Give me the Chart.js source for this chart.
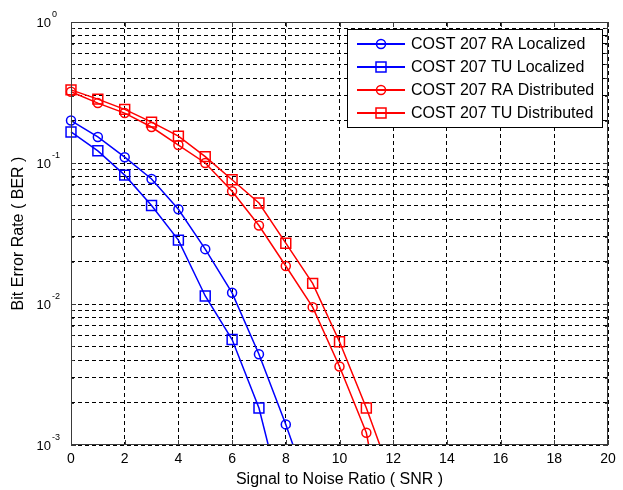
<!DOCTYPE html>
<html>
<head>
<meta charset="utf-8">
<script src="https://cdn.jsdelivr.net/npm/chart.js@4/dist/chart.umd.min.js"></script>
<style>
  html, body { margin: 0; padding: 0; background: #fff; }
  #wrap { width: 623px; height: 490px; position: relative; }
  #chart { display: block; }
</style>
</head>
<body>
<div id="wrap"><canvas id="chart" width="623" height="490"></canvas></div>
<script>
// SNR values (dB) on the x axis
const snr = [0, 1, 2, 3, 4, 5, 6, 7, 8, 9, 10, 11, 12];

// BER curves
const raLocalized   = [0.20, 0.153, 0.110, 0.077, 0.047, 0.0245, 0.012, 0.0044, 0.0014, 0.0004];
const tuLocalized   = [0.166, 0.122, 0.082, 0.050, 0.0284, 0.0114, 0.0056, 0.00183, 0.00032];
const raDistributed = [0.32, 0.266, 0.226, 0.18, 0.134, 0.10, 0.063, 0.036, 0.0186, 0.0095, 0.0036, 0.00122, 0.00012];
const tuDistributed = [0.33, 0.284, 0.24, 0.195, 0.155, 0.111, 0.076, 0.052, 0.027, 0.014, 0.0054, 0.00183, 0.00055];

const seriesLabels = ['COST 207 RA Localized', 'COST 207 TU Localized', 'COST 207 RA Distributed', 'COST 207 TU Distributed'];

// log axis ticks: 1..9 x 10^n, labelled at each decade
const yTicks = [];
for (let e = -3; e < 0; e++) {
    for (let m = 1; m < 10; m++) yTicks.push(+(m * Math.pow(10, e)).toPrecision(2));
}
yTicks.push(1);

const FONT = "'Liberation Sans', Arial, sans-serif";

function toPoints(values) {
    return values.map((v, i) => ({ x: snr[i], y: v }));
}

function makeSet(label, values, color, style) {
    return {
        label: label,
        data: toPoints(values),
        borderColor: color,
        backgroundColor: 'rgba(0,0,0,0)',
        borderWidth: 1.5,
        pointStyle: style,
        pointRadius: style === 'rect' ? 7 : 4.5,
        pointBorderWidth: 1.5,
        pointBorderColor: color,
        pointBackgroundColor: 'rgba(0,0,0,0)',
        tension: 0,
        // let markers at x = 0 overhang the frame, but cut the curves at 1e-3
        clip: { left: 10, top: 10, right: 10, bottom: 0 }
    };
}

// frame, inside tick marks and superscript decade labels
const framePlugin = {
    id: 'frame',
    afterDraw(chart) {
        const { ctx, chartArea: a, scales } = chart;
        ctx.save();
        ctx.strokeStyle = '#3a3a3a';
        ctx.lineWidth = 1;
        ctx.strokeRect(a.left + 0.5, a.top + 0.5, a.right - a.left - 1, a.bottom - a.top - 1);
        ctx.beginPath();
        for (let v = 0; v <= 20; v += 2) {
            const px = Math.round(scales.x.getPixelForValue(v)) + 0.5;
            ctx.moveTo(px, a.bottom); ctx.lineTo(px, a.bottom - 5);
            ctx.moveTo(px, a.top); ctx.lineTo(px, a.top + 5);
        }
        yTicks.forEach(v => {
            const py = Math.round(scales.y.getPixelForValue(v)) + 0.5;
            const len = Math.abs(Math.log10(v) - Math.round(Math.log10(v))) < 1e-6 ? 5 : 3;
            ctx.moveTo(a.left, py); ctx.lineTo(a.left + len, py);
            ctx.moveTo(a.right, py); ctx.lineTo(a.right - len, py);
        });
        ctx.stroke();

        // decade labels 10^n
        ctx.fillStyle = '#000';
        ctx.textBaseline = 'alphabetic';
        for (let e = -3; e <= 0; e++) {
            const py = scales.y.getPixelForValue(Math.pow(10, e));
            const baseRight = a.left - 20;
            ctx.font = '13px ' + FONT;
            ctx.textAlign = 'right';
            ctx.fillText('10', baseRight, py + 5);
            ctx.font = '9px ' + FONT;
            ctx.textAlign = 'left';
            ctx.fillText(String(e), baseRight + 1, py - 5);
        }
        ctx.restore();
    }
};

// legend box with line + marker samples
const legendPlugin = {
    id: 'boxLegend',
    afterDatasetsDraw(chart) {
        const { ctx } = chart;
        const bx = 347, by = 29, bw = 255, bh = 98;
        ctx.save();
        ctx.fillStyle = '#fff';
        ctx.fillRect(bx, by, bw, bh);
        ctx.strokeStyle = '#000';
        ctx.lineWidth = 1;
        ctx.strokeRect(bx + 0.5, by + 0.5, bw, bh);
        chart.data.datasets.forEach((ds, i) => {
            const y = by + 15 + i * 23;
            ctx.strokeStyle = ds.borderColor;
            ctx.lineWidth = 2;
            ctx.beginPath();
            ctx.moveTo(357, y); ctx.lineTo(405, y);
            ctx.stroke();
            ctx.lineWidth = 1.5;
            ctx.beginPath();
            if (ds.pointStyle === 'rect') {
                ctx.rect(376, y - 5, 10, 10);
            } else {
                ctx.arc(381, y, 4.5, 0, Math.PI * 2);
            }
            ctx.stroke();
            ctx.fillStyle = '#000';
            ctx.font = '16px ' + FONT;
            ctx.textAlign = 'left';
            ctx.textBaseline = 'middle';
            ctx.fillText(ds.label, 411, y + 1);
        });
        ctx.restore();
    }
};

const dash = [4, 3];

new Chart(document.getElementById('chart').getContext('2d'), {
    type: 'line',
    data: {
        datasets: [
            makeSet(seriesLabels[0], raLocalized, '#0000ff', 'circle'),
            makeSet(seriesLabels[1], tuLocalized, '#0000ff', 'rect'),
            makeSet(seriesLabels[2], raDistributed, '#ff0000', 'circle'),
            makeSet(seriesLabels[3], tuDistributed, '#ff0000', 'rect')
        ]
    },
    options: {
        responsive: false,
        animation: false,
        devicePixelRatio: 1,
        layout: { padding: { left: 0, top: 22, right: 15, bottom: 0 } },
        plugins: {
            legend: { display: false },
            tooltip: { enabled: false }
        },
        scales: {
            x: {
                type: 'linear',
                min: 0,
                max: 20,
                ticks: { stepSize: 2, maxRotation: 0, color: '#000', font: { family: FONT, size: 14 }, padding: 6 },
                grid: { color: '#000', lineWidth: 1, drawTicks: false },
                border: { display: false, dash: dash },
                title: {
                    display: true,
                    text: 'Signal to Noise Ratio ( SNR )',
                    color: '#000',
                    font: { family: FONT, size: 16 },
                    padding: { top: 0, bottom: 1 }
                },
                afterFit(scale) { scale.height = 45; }
            },
            y: {
                type: 'logarithmic',
                min: 0.001,
                max: 1,
                afterBuildTicks(scale) { scale.ticks = yTicks.map(v => ({ value: v })); },
                ticks: { autoSkip: false, callback: () => '', font: { family: FONT, size: 14 } },
                grid: { color: '#000', lineWidth: 1, drawTicks: false },
                border: { display: false, dash: dash },
                title: {
                    display: true,
                    text: 'Bit Error Rate ( BER )',
                    color: '#000',
                    font: { family: FONT, size: 16 },
                    padding: { top: 9, bottom: 0 }
                },
                afterFit(scale) { scale.width = 71; }
            }
        }
    },
    plugins: [framePlugin, legendPlugin]
});
</script>
</body>
</html>
